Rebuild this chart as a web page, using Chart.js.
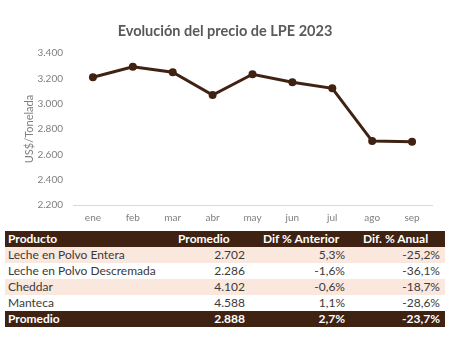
<!DOCTYPE html>
<html>
  <head>
    <title>Evolución del precio de LPE 2023</title>
    <script src="https://cdn.jsdelivr.net/npm/chart.js"></script>
    <style>
      body { margin: 0; background: #fff; font-family: Lato, "Open Sans", sans-serif; }
      .chart-title { position: absolute; left: 0; top: 21px; width: 450px; text-align: center;
        font-size: 14.5px; font-weight: bold; color: #595959; line-height: 20px; }
      .chart-container { position: absolute; left: 0; top: 0; width: 450px; height: 231px; }
      table { position: absolute; left: 5px; top: 231px; width: 440px; border-collapse: collapse;
        table-layout: fixed; font-size: 12px; color: #3a3a3a; }
      td, th { padding: 0 5px 0 3px; height: 16px; line-height: 16px; white-space: nowrap; }
      th { background: #3f2212; color: #fff; font-weight: bold; text-align: left; }
      tr.odd td { background: #fae7dd; }
      tr.total td { background: #3f2212; color: #fff; font-weight: bold; }
      .num { text-align: right; }
    </style>
  </head>
  <body>
    <div class="chart-container">
      <canvas id="lpe-chart"></canvas>
    </div>
    <div class="chart-title">Evolución del precio de LPE 2023</div>
    <table id="lpe-table">
      <colgroup><col style="width:170px"><col style="width:75px"><col style="width:100px"><col style="width:95px"></colgroup>
    </table>

    <script>
      const months = ['ene', 'feb', 'mar', 'abr', 'may', 'jun', 'jul', 'ago', 'sep'];
      const prices = [3208, 3292, 3248, 3068, 3232, 3169, 3121, 2705, 2700];
      const yTicks = [2200, 2400, 2600, 2800, 3000, 3200, 3400];

      const tableHeaders = ['Producto', 'Promedio', 'Dif % Anterior', 'Dif. % Anual'];
      const products = ['Leche en Polvo Entera', 'Leche en Polvo Descremada', 'Cheddar', 'Manteca'];
      const averages = ['2.702', '2.286', '4.102', '4.588'];
      const difPrev = ['5,3%', '-1,6%', '-0,6%', '1,1%'];
      const difYear = ['-25,2%', '-36,1%', '-18,7%', '-28,6%'];
      const totalRow = ['Promedio', '2.888', '2,7%', '-23,7%'];

      // thousands with a dot, like the Excel source
      function fmt(v) {
        return String(v).replace(/\B(?=(\d{3})+(?!\d))/g, '.');
      }

      // table
      const tbl = document.getElementById('lpe-table');
      let html = '<tr>' + tableHeaders.map((h, i) =>
        '<th style="padding-left:' + (i < 2 ? 3 : 13) + 'px">' + h + '</th>').join('') + '</tr>';
      products.forEach((p, i) => {
        html += '<tr class="' + (i % 2 == 0 ? 'odd' : '') + '"><td>' + p + '</td><td class="num">' + averages[i] +
          '</td><td class="num">' + difPrev[i] + '</td><td class="num">' + difYear[i] + '</td></tr>';
      });
      html += '<tr class="total"><td>' + totalRow[0] + '</td><td class="num">' + totalRow[1] +
        '</td><td class="num">' + totalRow[2] + '</td><td class="num">' + totalRow[3] + '</td></tr>';
      tbl.insertAdjacentHTML('beforeend', html);

      const ctx = document.getElementById('lpe-chart').getContext('2d');
      new Chart(ctx, {
        type: 'line',
        data: {
          labels: months,
          datasets: [{
            data: prices,
            borderColor: '#3f2212',
            backgroundColor: '#3f2212',
            borderWidth: 3,
            pointRadius: 4,
            pointBorderWidth: 0,
            tension: 0
          }]
        },
        options: {
          responsive: true,
          maintainAspectRatio: false,
          animation: false,
          layout: { padding: { top: 53, left: 23, right: 18, bottom: 0 } },
          plugins: {
            legend: { display: false },
            tooltip: { enabled: false }
          },
          scales: {
            x: {
              offset: true,
              grid: { display: false, drawTicks: false, offset: true },
              border: { display: true, color: '#d9d9d9', width: 1 },
              ticks: { color: '#7f7f7f', font: { family: 'Lato', size: 10 }, padding: 7 }
            },
            y: {
              min: 2200,
              max: 3400,
              afterBuildTicks: axis => { axis.ticks = yTicks.map(v => ({ value: v })); },
              afterFit: axis => { axis.width = 50; },
              grid: { display: false, drawTicks: false },
              border: { display: false },
              title: {
                display: true,
                text: 'US$/Tonelada',
                color: '#7f7f7f',
                font: { family: 'Lato', size: 11 },
                padding: 0
              },
              ticks: {
                color: '#7f7f7f',
                font: { family: 'Lato', size: 10 },
                padding: 10,
                callback: v => fmt(v)
              }
            }
          }
        }
      });
    </script>
  </body>
</html>
